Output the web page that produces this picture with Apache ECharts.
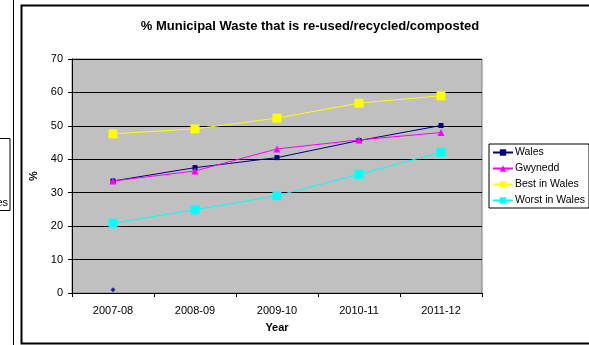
<!DOCTYPE html>
<html>
<head>
<meta charset="utf-8">
<style>
  html, body { margin: 0; padding: 0; background: #fff; }
  #chart { width: 589px; height: 345px; }
</style>
<script src="https://cdn.jsdelivr.net/npm/echarts@6/dist/echarts.min.js"></script>
</head>
<body>
<div id="chart"></div>
<script>
// Recycling / composting rates by year (%)
const years = ['2007-08', '2008-09', '2009-10', '2010-11', '2011-12'];
const wales = [33.5, 37.5, 40.5, 45.6, 50.1];
const gwynedd = [33.5, 36.5, 43.1, 45.8, 48.0];
const bestInWales = [47.6, 49.1, 52.3, 56.8, 59.0];
const worstInWales = [20.9, 24.9, 29.1, 35.5, 42.1];
const strayPoint = [1.0, null, null, null, null];
const yTicks = [0, 10, 20, 30, 40, 50, 60, 70];

const FONT = 'Arial, "Liberation Sans", sans-serif';

const chart = echarts.init(document.getElementById('chart'), null, { renderer: 'canvas' });

function lineSeries(name, data, color, symbol, size) {
  return {
    name: name,
    type: 'line',
    data: data,
    symbol: symbol,
    symbolSize: size,
    showAllSymbol: true,
    lineStyle: { color: color, width: 1 },
    itemStyle: { color: color },
    emphasis: { disabled: true },
    animation: false,
    z: 3
  };
}

chart.setOption({
  animation: false,
  backgroundColor: '#ffffff',
  title: {
    text: '% Municipal Waste that is re-used/recycled/composted',
    left: 305, top: 15, textAlign: 'center',
    textStyle: { fontFamily: FONT, fontSize: 13, fontWeight: 'bold', color: '#000' }
  },
  grid: {
    left: 72, right: 107, top: 59, bottom: 52,
    show: true, backgroundColor: '#c0c0c0', borderColor: '#808080', borderWidth: 1
  },
  legend: {
    left: 489, top: 144, orient: 'vertical',
    itemWidth: 20, itemHeight: 8, itemGap: 5,
    padding: [3, 4, 2, 3],
    borderColor: '#000', borderWidth: 1, backgroundColor: '#fff',
    textStyle: { fontFamily: FONT, fontSize: 10.5, color: '#000', padding: [0, 0, 0, -3] },
    data: ['Wales', 'Gwynedd', 'Best in Wales', 'Worst in Wales']
  },
  xAxis: {
    type: 'category',
    data: years,
    boundaryGap: true,
    name: 'Year', nameLocation: 'middle', nameGap: 29,
    nameTextStyle: { fontFamily: FONT, fontSize: 11, fontWeight: 'bold', color: '#000' },
    axisLine: { lineStyle: { color: '#000', width: 1 } },
    axisTick: { show: true, length: 4, lineStyle: { color: '#000' } },
    axisLabel: { fontFamily: FONT, fontSize: 11, color: '#000', margin: 12 },
    splitLine: { show: false }
  },
  yAxis: {
    type: 'value',
    min: yTicks[0], max: yTicks[yTicks.length - 1], interval: 10,
    name: '%', nameLocation: 'middle', nameGap: 27, nameRotate: 90,
    nameTextStyle: { fontFamily: FONT, fontSize: 11, fontWeight: 'bold', color: '#000' },
    axisLine: { show: true, lineStyle: { color: '#000', width: 1 } },
    axisTick: { show: true, length: 4, lineStyle: { color: '#000' } },
    axisLabel: { fontFamily: FONT, fontSize: 11, color: '#000', margin: 9 },
    splitLine: { show: true, lineStyle: { color: '#000', width: 1 } }
  },
  series: [
    lineSeries('Wales', wales, '#000080', 'rect', 5),
    lineSeries('Gwynedd', gwynedd, '#ff00ff', 'triangle', 7),
    lineSeries('Best in Wales', bestInWales, '#ffff00', 'rect', 9),
    lineSeries('Worst in Wales', worstInWales, '#00ffff', 'rect', 9),
    {
      name: 'point', type: 'scatter', data: strayPoint,
      symbol: 'diamond', symbolSize: 5,
      itemStyle: { color: '#000080' }, z: 3, animation: false
    }
  ],
  graphic: [
    // outer chart frame
    { type: 'rect', shape: { x: 21.5, y: 5.5, width: 600, height: 338 },
      style: { fill: null, stroke: '#000', lineWidth: 2 }, z: -1 },
    // neighbouring frame edge on the left
    { type: 'line', shape: { x1: 13.5, y1: 0, x2: 13.5, y2: 345 },
      style: { stroke: '#000', lineWidth: 1 }, z: -1 },
    // clipped neighbouring legend box
    { type: 'rect', shape: { x: -20, y: 138.5, width: 30, height: 72 },
      style: { fill: '#fff', stroke: '#000', lineWidth: 1 }, z: -1 },
    { type: 'text', x: 8, y: 203, z: -1,
      style: { text: 'Worst in Wales', fill: '#000', font: '11px ' + FONT,
               align: 'right', verticalAlign: 'middle' } }
  ]
});
</script>
</body>
</html>
